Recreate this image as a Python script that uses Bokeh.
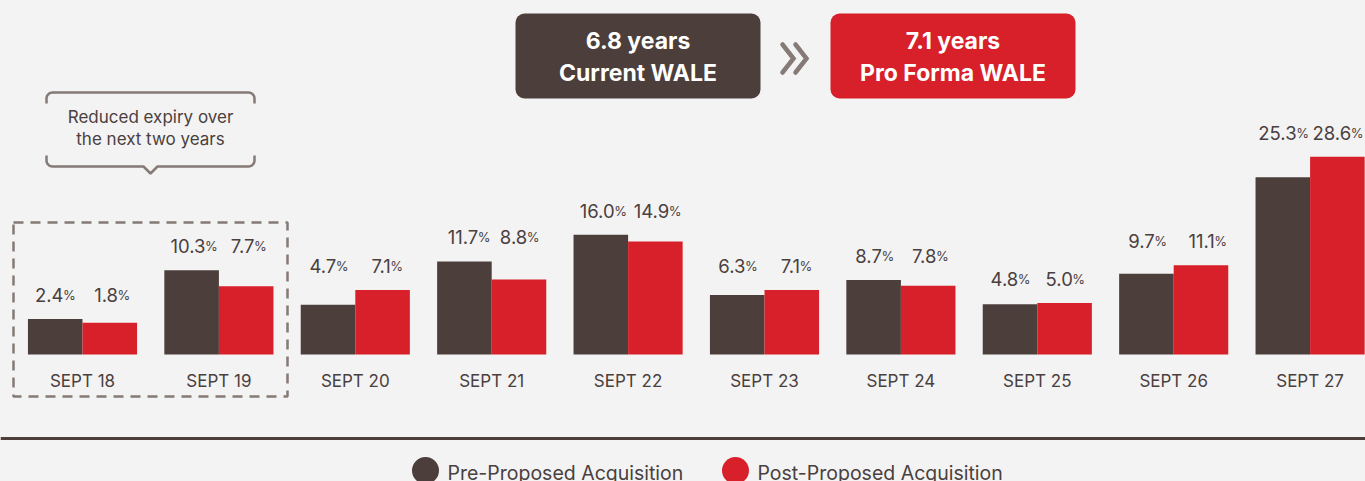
from bokeh.plotting import figure
from bokeh.models import Range1d
from bokeh.embed import file_html
from bokeh.resources import INLINE
from bokeh.core.properties import value
import numpy as np

# ---------------- data ----------------
categories = ["SEPT 18", "SEPT 19", "SEPT 20", "SEPT 21", "SEPT 22",
              "SEPT 23", "SEPT 24", "SEPT 25", "SEPT 26", "SEPT 27"]
pre = [2.4, 10.3, 4.7, 11.7, 16.0, 6.3, 8.7, 4.8, 9.7, 25.3]
post = [1.8, 7.7, 7.1, 8.8, 14.9, 7.1, 7.8, 5.0, 11.1, 28.6]
series_names = ["Pre-Proposed Acquisition", "Post-Proposed Acquisition"]
wale_values = ["6.8 years", "7.1 years"]
wale_labels = ["Current WALE", "Pro Forma WALE"]
callout_lines = ["Reduced expiry over", "the next two years"]

# ---------------- styling ----------------
DARK = "#4b3e3b"
RED = "#d8202a"
TXT = "#4a403e"
GREY = "#857a76"
BG = "#f3f3f3"
FONT = "Inter"

W, H = 1365, 481
OX, OY = 0, 0
X0, STEP = 82.0, 136.4     # screen x of first group centre, group spacing
Y0, K = 333.5, 6.2         # screen y of value 0, px per percent


def sx(X):
    return (X - X0) / STEP


def sy(Y):
    return (Y0 - Y) / K


p = figure(width=W, height=H,
           x_range=Range1d(sx(OX), sx(OX + W)),
           y_range=Range1d(sy(OY + H), sy(OY)),
           output_backend="svg", toolbar_location=None,
           x_axis_location=None, y_axis_location=None, min_border=0)
p.grid.visible = False
p.outline_line_color = None
p.background_fill_color = BG
p.border_fill_color = BG

idx = np.arange(len(categories))
base = sy(354)
p.vbar(x=idx - 0.2, top=pre, bottom=base, width=0.4, fill_color=DARK, line_color=None)
p.vbar(x=idx + 0.2, top=post, bottom=base, width=0.4, fill_color=RED, line_color=None)

# value labels: number + smaller %, both labels of a group on one line
NFS, PFS = 18.5, 13


def num_w(s):
    return sum(0.29 * NFS if c == "." else 0.6 * NFS for c in s)


PW = 0.85 * PFS
nx, ny, nt, px_, py_ = [], [], [], [], []
for off, vals in ((-0.2, pre), (0.2, post)):
    for i, v in enumerate(vals):
        s = f"{v:.1f}"
        wn = num_w(s)
        total = wn + PW
        cx = X0 + STEP * (i + off)
        right = min(cx - total / 2 + wn, W - PW - 1)
        group_top = max(pre[i], post[i])
        ly = group_top + 24 / K
        nx.append(sx(right))
        ny.append(ly)
        nt.append(s)
        px_.append(sx(right - 0.5))
        py_.append(ly)
p.text(x=nx, y=ny, text=nt, text_align="right", text_baseline="alphabetic",
       text_font=value(FONT), text_font_size=f"{NFS}px", text_color=TXT)
p.text(x=px_, y=py_, text=["%"] * len(px_), text_align="left", text_baseline="alphabetic",
       text_font=value(FONT), text_font_size=f"{PFS}px", text_color=TXT)

# category labels
p.text(x=idx, y=[sy(380)] * len(idx), text=categories, text_align="center",
       text_baseline="alphabetic", text_font=value(FONT), text_font_size="17px",
       text_color=TXT)

# dashed box around first two years
p.quad(left=sx(13), right=sx(287), top=sy(222), bottom=sy(396), fill_color=None,
       line_color=GREY, line_width=2.5, line_dash="10 7")


# callout bracket
def arc(cx, cy, r, a0, a1, n=8):
    a = np.linspace(np.radians(a0), np.radians(a1), n)
    return list(cx + r * np.cos(a)), list(cy - r * np.sin(a))


r = 6
tx, ty = [46], [103]
ax_, ay_ = arc(46 + r, 92 + r, r, 180, 90)
tx += ax_; ty += ay_
ax_, ay_ = arc(254 - r, 92 + r, r, 90, 0)
tx += ax_; ty += ay_
tx += [254]; ty += [103]
p.line([sx(v) for v in tx], [sy(v) for v in ty], line_color=GREY, line_width=2.5)

bx, by = [46], [155]
ax_, ay_ = arc(46 + r, 166 - r, r, 180, 270)
bx += ax_; by += ay_
bx += [143, 150, 157]; by += [166, 173, 166]
ax_, ay_ = arc(254 - r, 166 - r, r, 270, 360)
bx += ax_; by += ay_
bx += [254]; by += [155]
p.line([sx(v) for v in bx], [sy(v) for v in by], line_color=GREY, line_width=2.5)

p.text(x=[sx(150)] * 2, y=[sy(116), sy(138)], text=callout_lines, text_align="center",
       text_baseline="alphabetic", text_font=value(FONT), text_font_size="17px",
       text_color=TXT)

# WALE boxes
p.quad(left=[sx(515), sx(830)], right=[sx(760), sx(1075)], top=sy(13), bottom=sy(98),
       fill_color=[DARK, RED], line_color=None, border_radius=9)
p.text(x=[sx(637.5), sx(952.5)], y=[sy(40)] * 2, text=wale_values, text_align="center",
       text_baseline="alphabetic", text_font=value(FONT), text_font_size="23px",
       text_font_style="bold", text_color="white")
p.text(x=[sx(637.5), sx(952.5)], y=[sy(72)] * 2, text=wale_labels, text_align="center",
       text_baseline="alphabetic", text_font=value(FONT), text_font_size="23px",
       text_font_style="bold", text_color="white")

# chevrons
for x0c in (782, 795):
    p.line([sx(x0c), sx(x0c + 11), sx(x0c)], [sy(44), sy(58), sy(72)],
           line_color=GREY, line_width=4.5, line_cap="round", line_join="miter")

# horizontal rule
p.line([sx(0), sx(1365)], [sy(438)] * 2, line_color=DARK, line_width=3)

# legend
p.scatter(x=[sx(425), sx(735)], y=[sy(470)] * 2, size=27, marker="circle",
          fill_color=[DARK, RED], line_color=None)
p.text(x=[sx(447), sx(757)], y=[sy(472)] * 2, text=series_names, text_align="left",
       text_baseline="alphabetic", text_font=value(FONT), text_font_size="19.5px",
       text_color=TXT)

html = file_html(p, INLINE)
html = html.replace("<head>", "<head><style>body{background:%s;}</style>" % BG, 1)
open("out.html", "w").write(html)
